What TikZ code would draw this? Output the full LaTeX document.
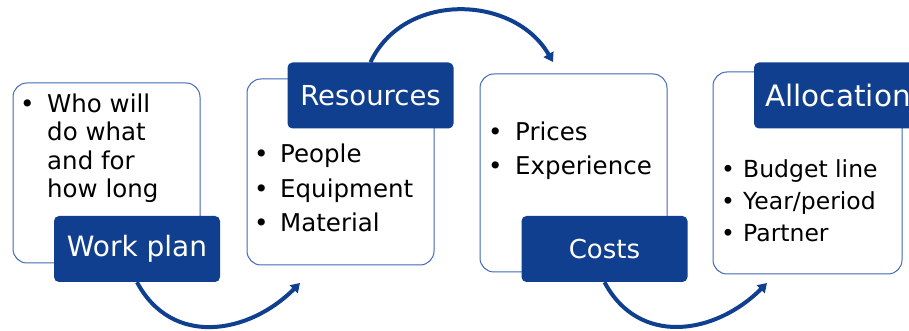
\documentclass[tikz,border=0pt]{standalone}
\usepackage{fontspec}
\setmainfont{DejaVu Sans}
\usetikzlibrary{arrows.meta,calc}
\definecolor{navy}{RGB}{17,63,143}
\definecolor{rim}{RGB}{66,104,182}
\newcommand{\bitem}[1][26pt]{\makebox[#1][l]{\textbullet}}

\begin{document}
\begin{tikzpicture}[x=1pt,y=1pt,>={Triangle[length=9pt,width=11pt]},line join=round]
  \tikzset{
    panel/.style={draw=rim,line width=1pt,fill=white,rounded corners=14pt,inner sep=0pt,minimum width=187pt},
    tag/.style={fill=navy,rounded corners=5pt,text=white,inner sep=0pt,minimum width=166pt,minimum height=66pt,font=\fontsize{28}{30}\selectfont},
    bullets/.style={anchor=base west,align=left,inner sep=0pt},
    flow/.style={->,navy,line width=4pt}
  }
  \useasboundingbox (0,0) rectangle (909,331);

  % content panels
  \node[panel,minimum height=180pt] (planbox) at (106.5,158) {};
  \node[panel,minimum height=186pt] (resbox) at (340.5,159) {};
  \node[panel,minimum height=198pt] (costbox) at (573.5,158) {};
  \node[panel,minimum width=189pt,minimum height=202pt] (allocbox) at (807.5,158) {};

  % headings
  \node[tag] (plantag) at (137,82) {Work plan};
  \node[tag,font=\fontsize{27.5}{30}\selectfont] (restag) at (370.5,235.5) {Resources};
  \node[tag,font=\fontsize{26}{30}\selectfont] (costtag) at (604.5,82) {Costs};
  \node[tag,minimum width=168pt,font=\fontsize{29.5}{30}\selectfont] (alloctag) at (838,235.5) {Allocation};

  % bullet lists (base = last line)
  \node[bullets,font=\fontsize{24.5}{28.5}\selectfont] (plantext) at (20,133)
    {\bitem[27pt]Who will\\\hspace*{27pt}do what\\\hspace*{27pt}and for\\\hspace*{27pt}how long};
  \node[bullets,font=\fontsize{24.5}{34.5}\selectfont] (restext) at (254,99)
    {\bitem People\\\bitem Equipment\\\bitem Material};
  \node[bullets,font=\fontsize{24.5}{34}\selectfont] (costtext) at (488,156)
    {\bitem[27pt]Prices\\\bitem[27pt]Experience};
  \node[bullets,font=\fontsize{23.5}{32}\selectfont] (alloctext) at (721,89)
    {\bitem[22pt]Budget line\\\bitem[22pt]Year/period\\\bitem[22pt]Partner};

  % arrows between steps
  \coordinate (resin) at (300,48);
  \coordinate (costin) at (553,269);
  \coordinate (allocin) at (767,48);
  \draw[flow] (plantag.south) to[out=-62,in=-135,looseness=1.15] (resin);
  \draw[flow] (restag.north) to[out=65,in=120,looseness=1.1] (costin);
  \draw[flow] (costtag.south) to[out=-62,in=-135,looseness=1.15] (allocin);
\end{tikzpicture}
\end{document}
